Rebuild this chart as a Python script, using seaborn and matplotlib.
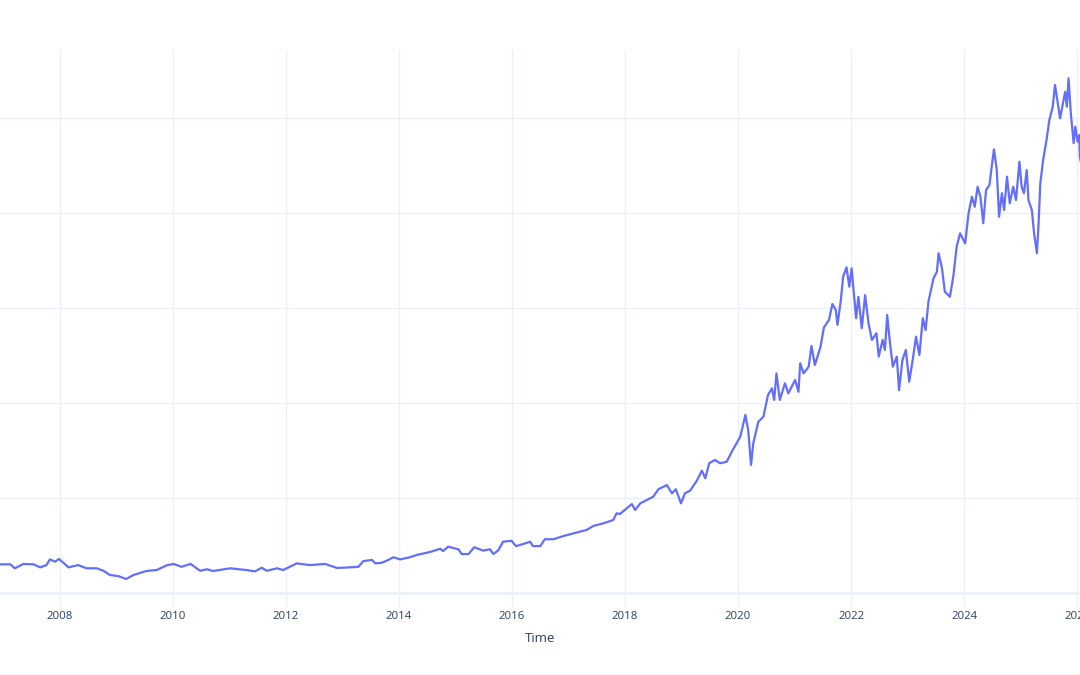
import pandas as pd
import matplotlib
matplotlib.use("Agg")
import matplotlib.pyplot as plt
import seaborn as sns

# Price series (decimal year, value)
year = [
    2006.90, 2006.94, 2007.12, 2007.20, 2007.35, 2007.53, 2007.65, 2007.76, 2007.82, 2007.91,
    2007.98, 2008.06, 2008.15, 2008.32, 2008.47, 2008.65, 2008.77, 2008.88, 2009.03, 2009.17,
    2009.30, 2009.53, 2009.71, 2009.89, 2010.01, 2010.15, 2010.31, 2010.48, 2010.60, 2010.71,
    2011.01, 2011.30, 2011.45, 2011.57, 2011.66, 2011.84, 2011.95, 2012.19, 2012.42, 2012.69,
    2012.90, 2013.13, 2013.28, 2013.37, 2013.52, 2013.58, 2013.69, 2013.78, 2013.90, 2014.02,
    2014.19, 2014.31, 2014.55, 2014.73, 2014.78, 2014.87, 2015.05, 2015.11, 2015.23, 2015.33,
    2015.49, 2015.61, 2015.67, 2015.76, 2015.84, 2015.99, 2016.07, 2016.20, 2016.32, 2016.37,
    2016.50, 2016.58, 2016.73, 2016.91, 2017.15, 2017.32, 2017.44, 2017.62, 2017.79, 2017.85,
    2017.91, 2018.03, 2018.12, 2018.18, 2018.27, 2018.38, 2018.50, 2018.59, 2018.74, 2018.83,
    2018.90, 2018.99, 2019.06, 2019.15, 2019.27, 2019.36, 2019.42, 2019.49, 2019.59, 2019.68,
    2019.80, 2019.89, 2020.04, 2020.13, 2020.18, 2020.23, 2020.27, 2020.36, 2020.45, 2020.53,
    2020.60, 2020.64, 2020.68, 2020.74, 2020.83, 2020.89, 2021.01, 2021.07, 2021.10, 2021.16,
    2021.25, 2021.30, 2021.36, 2021.46, 2021.52, 2021.61, 2021.67, 2021.73, 2021.76, 2021.82,
    2021.86, 2021.92, 2021.97, 2022.01, 2022.05, 2022.09, 2022.13, 2022.19, 2022.25, 2022.31,
    2022.37, 2022.45, 2022.49, 2022.56, 2022.60, 2022.64, 2022.69, 2022.74, 2022.81, 2022.85,
    2022.91, 2022.97, 2023.03, 2023.10, 2023.15, 2023.21, 2023.27, 2023.32, 2023.37, 2023.46,
    2023.52, 2023.55, 2023.61, 2023.66, 2023.75, 2023.81, 2023.87, 2023.93, 2024.02, 2024.08,
    2024.14, 2024.19, 2024.24, 2024.29, 2024.34, 2024.39, 2024.45, 2024.49, 2024.53, 2024.58,
    2024.62, 2024.67, 2024.71, 2024.76, 2024.81, 2024.87, 2024.92, 2024.98, 2025.02, 2025.06,
    2025.11, 2025.14, 2025.20, 2025.24, 2025.29, 2025.32, 2025.35, 2025.40, 2025.46, 2025.51,
    2025.57, 2025.61, 2025.66, 2025.70, 2025.75, 2025.79, 2025.82, 2025.85, 2025.89, 2025.94,
    2025.97, 2026.01, 2026.04, 2026.05, 2026.08,
]
price = [
    15.0, 15.1, 15.1, 13.0, 15.3, 15.1, 13.5, 14.7, 17.7, 16.5,
    17.9, 15.9, 13.5, 14.7, 13.0, 13.0, 11.7, 9.5, 8.9, 7.4,
    9.5, 11.6, 12.1, 14.6, 15.3, 13.8, 15.3, 11.7, 12.5, 11.6,
    13.0, 12.1, 11.4, 13.3, 11.7, 13.0, 12.1, 15.6, 14.7, 15.3,
    13.2, 13.5, 13.8, 16.8, 17.4, 15.6, 15.9, 17.0, 18.8, 17.7,
    18.8, 20.0, 21.6, 23.3, 22.1, 24.4, 23.0, 20.5, 20.5, 24.1,
    22.3, 23.0, 20.5, 22.6, 27.0, 27.5, 24.7, 25.8, 27.0, 24.7,
    24.7, 28.3, 28.3, 30.0, 31.9, 33.2, 35.3, 36.7, 38.4, 41.9,
    41.6, 44.6, 46.8, 43.7, 47.2, 48.9, 50.7, 54.6, 56.8, 52.5,
    54.6, 47.2, 52.5, 53.8, 59.1, 64.4, 60.4, 68.3, 70.0, 68.3,
    69.1, 74.4, 82.3, 93.7, 85.8, 67.4, 78.8, 90.2, 92.8, 104.2,
    107.7, 101.6, 115.6, 101.6, 110.4, 105.1, 112.1, 105.9, 120.9, 115.6,
    119.1, 130.0, 120.0, 129.6, 139.8, 143.7, 152.1, 148.9, 141.1, 154.2,
    166.5, 171.4, 161.2, 170.9, 157.7, 144.6, 155.9, 139.3, 156.8, 141.9,
    133.2, 136.7, 124.4, 133.2, 127.9, 146.3, 131.4, 119.1, 124.4, 106.8,
    122.6, 127.9, 111.2, 124.4, 134.9, 125.3, 144.6, 138.4, 153.3, 165.6,
    169.1, 178.8, 170.9, 158.6, 155.9, 166.5, 182.3, 189.3, 184.0, 199.8,
    208.6, 203.3, 213.8, 208.6, 194.6, 212.1, 214.7, 224.4, 233.5, 222.6,
    198.0, 210.4, 201.6, 219.1, 205.1, 213.8, 206.8, 227.0, 213.8, 210.4,
    222.6, 206.8, 201.6, 189.3, 178.8, 194.6, 215.6, 227.9, 238.4, 248.9,
    255.9, 267.4, 257.7, 249.8, 257.7, 263.8, 255.9, 270.9, 252.5, 236.7,
    245.4, 237.5, 241.0, 229.6, 225.0,
]
x_ticks = [2008, 2010, 2012, 2014, 2016, 2018, 2020, 2022, 2024, 2026]
y_ticks = [0, 50, 100, 150, 200, 250]

df = pd.DataFrame({"Time": year, "Price": price})

sns.set_style("white")
plt.rcParams["font.family"] = ["Open Sans", "DejaVu Sans"]

fig = plt.figure(figsize=(10.8, 6.75), dpi=100)
# plot area runs past the figure edges, like the cropped original
ax = fig.add_axes([-0.037, 0.1007, 1.074, 0.8253])

grid_c = "#EBF0F8"
for t in x_ticks:
    ax.axvline(t, color=grid_c, lw=1, zorder=0)
for v in y_ticks:
    ax.axhline(v, color=grid_c, lw=2 if v == 0 else 1, zorder=0)

sns.lineplot(data=df, x="Time", y="Price", ax=ax, color="#636EFA", linewidth=1.6)

ax.set_xlim(2006.23, 2026.76)
ax.set_ylim(-7.37, 285.79)
ax.set_xticks(x_ticks)
ax.set_xticklabels([str(t) for t in x_ticks])
ax.set_yticks(y_ticks)
ax.tick_params(axis="x", length=0, pad=3, labelsize=8.2, labelcolor="#2a3f5f")
ax.tick_params(axis="y", length=0, labelleft=False)
ax.set_xlabel("Time", fontsize=9.5, color="#2a3f5f", labelpad=7)
ax.set_ylabel("")
for s in ax.spines.values():
    s.set_visible(False)

fig.savefig("out.png", dpi=100)
